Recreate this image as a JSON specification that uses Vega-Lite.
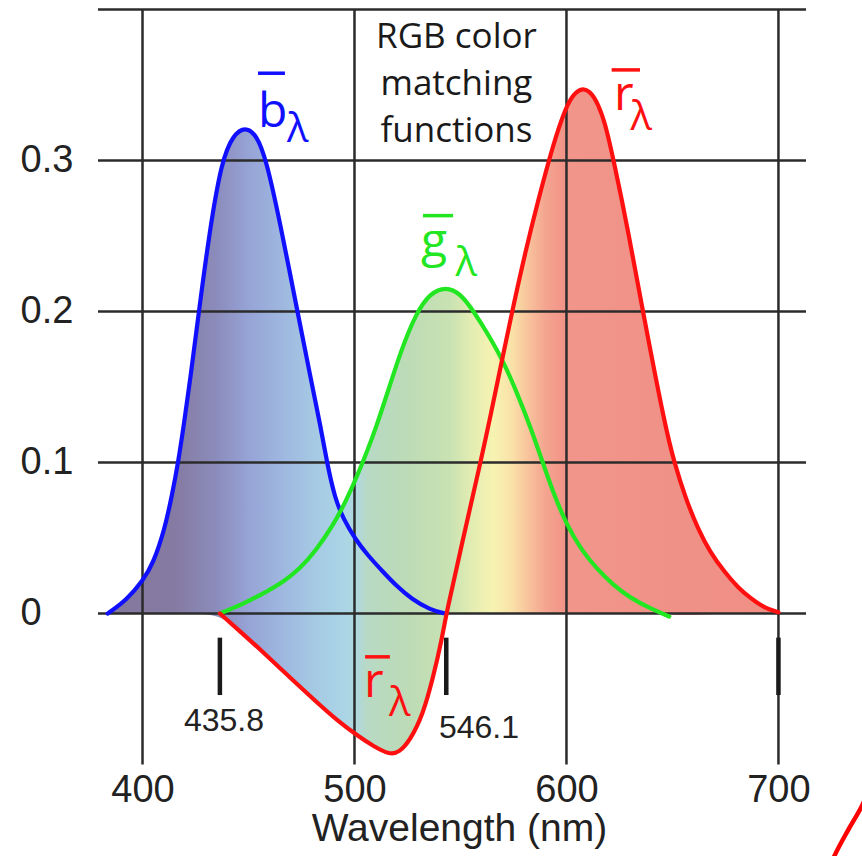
{
  "$schema": "https://vega.github.io/schema/vega-lite/v6.json",
  "width": 708,
  "height": 755,
  "autosize": {"type": "none"},
  "padding": {"left": 98, "top": 9.5, "right": 56, "bottom": 91.5},
  "background": "white",
  "config": {"view": {"stroke": null}, "font": "Liberation Sans"},
  "datasets": {
    "cmf": [
      {"fn": "b", "wl": 383.6, "v": 0}, {"fn": "b", "wl": 392.5, "v": 0.0088}, {"fn": "b", "wl": 400.3, "v": 0.0221},
      {"fn": "b", "wl": 405, "v": 0.033}, {"fn": "b", "wl": 410.5, "v": 0.056}, {"fn": "b", "wl": 414, "v": 0.079},
      {"fn": "b", "wl": 416.8, "v": 0.1}, {"fn": "b", "wl": 419.5, "v": 0.125}, {"fn": "b", "wl": 422.5, "v": 0.155},
      {"fn": "b", "wl": 426.6, "v": 0.2}, {"fn": "b", "wl": 431.5, "v": 0.252}, {"fn": "b", "wl": 437.3, "v": 0.3},
      {"fn": "b", "wl": 442.8, "v": 0.317}, {"fn": "b", "wl": 448.4, "v": 0.3225}, {"fn": "b", "wl": 453.8, "v": 0.317},
      {"fn": "b", "wl": 458.5, "v": 0.3}, {"fn": "b", "wl": 465, "v": 0.258}, {"fn": "b", "wl": 473.1, "v": 0.2},
      {"fn": "b", "wl": 479, "v": 0.158}, {"fn": "b", "wl": 484, "v": 0.124}, {"fn": "b", "wl": 487, "v": 0.1},
      {"fn": "b", "wl": 490.8, "v": 0.076}, {"fn": "b", "wl": 495, "v": 0.062}, {"fn": "b", "wl": 500.5, "v": 0.049},
      {"fn": "b", "wl": 506, "v": 0.039}, {"fn": "b", "wl": 513.5, "v": 0.0275}, {"fn": "b", "wl": 520, "v": 0.018},
      {"fn": "b", "wl": 527, "v": 0.0095}, {"fn": "b", "wl": 535.6, "v": 0.0025}, {"fn": "b", "wl": 542.7, "v": 0},
      {"fn": "b", "wl": 560, "v": 0}, {"fn": "b", "wl": 700, "v": 0},
      {"fn": "g", "wl": 383.6, "v": 0}, {"fn": "g", "wl": 420, "v": 0}, {"fn": "g", "wl": 436.5, "v": 0},
      {"fn": "g", "wl": 447, "v": 0.006}, {"fn": "g", "wl": 458.5, "v": 0.0144}, {"fn": "g", "wl": 466, "v": 0.0205},
      {"fn": "g", "wl": 474.2, "v": 0.0295}, {"fn": "g", "wl": 482, "v": 0.042}, {"fn": "g", "wl": 490, "v": 0.0586},
      {"fn": "g", "wl": 496, "v": 0.0745}, {"fn": "g", "wl": 501.5, "v": 0.0918}, {"fn": "g", "wl": 506, "v": 0.1075},
      {"fn": "g", "wl": 510, "v": 0.1225}, {"fn": "g", "wl": 516, "v": 0.148}, {"fn": "g", "wl": 522, "v": 0.1745},
      {"fn": "g", "wl": 529.3, "v": 0.1995}, {"fn": "g", "wl": 535.6, "v": 0.212}, {"fn": "g", "wl": 543.1, "v": 0.2165},
      {"fn": "g", "wl": 550, "v": 0.212}, {"fn": "g", "wl": 556.5, "v": 0.1995}, {"fn": "g", "wl": 563, "v": 0.185},
      {"fn": "g", "wl": 570.6, "v": 0.166}, {"fn": "g", "wl": 577, "v": 0.145}, {"fn": "g", "wl": 583.2, "v": 0.1228},
      {"fn": "g", "wl": 588.8, "v": 0.1}, {"fn": "g", "wl": 594, "v": 0.079}, {"fn": "g", "wl": 600.2, "v": 0.0586},
      {"fn": "g", "wl": 607, "v": 0.042}, {"fn": "g", "wl": 614.7, "v": 0.029}, {"fn": "g", "wl": 622, "v": 0.019},
      {"fn": "g", "wl": 630.4, "v": 0.01}, {"fn": "g", "wl": 640, "v": 0.003}, {"fn": "g", "wl": 648.5, "v": -0.002},
      {"fn": "g", "wl": 670, "v": 0}, {"fn": "g", "wl": 700, "v": 0},
      {"fn": "r", "wl": 383.6, "v": 0}, {"fn": "r", "wl": 420, "v": 0}, {"fn": "r", "wl": 436.5, "v": 0},
      {"fn": "r", "wl": 447, "v": -0.013}, {"fn": "r", "wl": 458.5, "v": -0.0277}, {"fn": "r", "wl": 470, "v": -0.043},
      {"fn": "r", "wl": 482.1, "v": -0.0586}, {"fn": "r", "wl": 492, "v": -0.071}, {"fn": "r", "wl": 501.5, "v": -0.081},
      {"fn": "r", "wl": 509, "v": -0.088}, {"fn": "r", "wl": 516.7, "v": -0.0936}, {"fn": "r", "wl": 521, "v": -0.092},
      {"fn": "r", "wl": 526.1, "v": -0.0843}, {"fn": "r", "wl": 532.4, "v": -0.0666}, {"fn": "r", "wl": 537.1, "v": -0.0423},
      {"fn": "r", "wl": 541.1, "v": -0.0179}, {"fn": "r", "wl": 543.3, "v": 0}, {"fn": "r", "wl": 551.3, "v": 0.05},
      {"fn": "r", "wl": 559.4, "v": 0.1}, {"fn": "r", "wl": 563, "v": 0.1228}, {"fn": "r", "wl": 574.3, "v": 0.2},
      {"fn": "r", "wl": 580.9, "v": 0.2412}, {"fn": "r", "wl": 586.8, "v": 0.2744}, {"fn": "r", "wl": 591.7, "v": 0.3},
      {"fn": "r", "wl": 596, "v": 0.3205}, {"fn": "r", "wl": 600.7, "v": 0.3384}, {"fn": "r", "wl": 604.5, "v": 0.3457},
      {"fn": "r", "wl": 608.3, "v": 0.348}, {"fn": "r", "wl": 612, "v": 0.3445}, {"fn": "r", "wl": 615, "v": 0.337},
      {"fn": "r", "wl": 618.2, "v": 0.325}, {"fn": "r", "wl": 622.3, "v": 0.3}, {"fn": "r", "wl": 629.3, "v": 0.252},
      {"fn": "r", "wl": 636.1, "v": 0.1995}, {"fn": "r", "wl": 646.7, "v": 0.1228}, {"fn": "r", "wl": 650.9, "v": 0.1},
      {"fn": "r", "wl": 656, "v": 0.077}, {"fn": "r", "wl": 661.9, "v": 0.0564}, {"fn": "r", "wl": 668, "v": 0.04},
      {"fn": "r", "wl": 674.5, "v": 0.0277}, {"fn": "r", "wl": 681, "v": 0.017}, {"fn": "r", "wl": 687, "v": 0.01},
      {"fn": "r", "wl": 693, "v": 0.004}, {"fn": "r", "wl": 700, "v": 0.0008}
    ],
    "gridx": [{"wl": 400}, {"wl": 500}, {"wl": 600}, {"wl": 700}],
    "gridy": [{"v": 0}, {"v": 0.1}, {"v": 0.2}, {"v": 0.3}, {"v": 0.4}],
    "hglines": [{"wl": 436.5}, {"wl": 543.3}, {"wl": 700}],
    "hglabels": [{"wl": 438.4, "v": -0.0709, "t": "435.8"}, {"wl": 558.7, "v": -0.0755, "t": "546.1"}],
    "letters": [
      {"wl": 454.5, "v": 0.3224, "t": "b", "fn": "b"},
      {"wl": 622.4, "v": 0.3335, "t": "r", "fn": "r"},
      {"wl": 531.4, "v": 0.2359, "t": "g", "fn": "g"},
      {"wl": 504.5, "v": -0.055, "t": "r", "fn": "r"}
    ],
    "bars": [
      {"wl": 454.5, "wl2": 467.2, "v": 0.3578, "fn": "b"},
      {"wl": 621.3, "wl2": 634.7, "v": 0.36, "fn": "r"},
      {"wl": 532.3, "wl2": 546.5, "v": 0.2635, "fn": "g"},
      {"wl": 505.0, "wl2": 516.7, "v": -0.0287, "fn": "r"}
    ],
    "subs": [
      {"wl": 468.2, "v": 0.3125, "t": "λ", "fn": "b"},
      {"wl": 630.2, "v": 0.3203, "t": "λ", "fn": "r"},
      {"wl": 547.7, "v": 0.2232, "t": "λ", "fn": "g"},
      {"wl": 516.3, "v": -0.068, "t": "λ", "fn": "r"}
    ],
    "note": [{"wl": 548.1, "v": 0.3743, "t": "RGB color\nmatching\nfunctions"}],
    "arc": [
      {"wl": 725.3, "v": -0.164}, {"wl": 726.7, "v": -0.1597}, {"wl": 733.0, "v": -0.1431},
      {"wl": 739.3, "v": -0.1276}, {"wl": 741.3, "v": -0.1218}
    ]
  },
  "layer": [
    {
      "data": {"name": "cmf"},
      "mark": {
        "type": "area",
        "interpolate": "basis",
        "fill": {
          "gradient": "linear", "x1": 0, "x2": 1, "y1": 0, "y2": 0,
          "stops": [
            {"offset": 0, "color": "#84789c"},
            {"offset": 0.099, "color": "#857aa2"},
            {"offset": 0.162, "color": "#8b8cbb"},
            {"offset": 0.21, "color": "#96a3d6"},
            {"offset": 0.257, "color": "#9eb6df"},
            {"offset": 0.305, "color": "#a5c8e3"},
            {"offset": 0.352, "color": "#abd5e6"},
            {"offset": 0.371, "color": "#b0d8df"},
            {"offset": 0.387, "color": "#b8d9c4"},
            {"offset": 0.447, "color": "#bcdbb6"},
            {"offset": 0.51, "color": "#c9e2b2"},
            {"offset": 0.542, "color": "#e2ecb2"},
            {"offset": 0.574, "color": "#f7f3b1"},
            {"offset": 0.602, "color": "#f9e2a8"},
            {"offset": 0.627, "color": "#f8c39c"},
            {"offset": 0.652, "color": "#f4a590"},
            {"offset": 0.678, "color": "#f29589"},
            {"offset": 0.716, "color": "#f1948a"},
            {"offset": 1, "color": "#ef8e84"}
          ]
        }
      },
      "encoding": {
        "x": {
          "field": "wl", "type": "quantitative",
          "scale": {"domain": [379, 713], "nice": false, "zero": false},
          "axis": {
            "values": [400, 500, 600, 700], "grid": false, "ticks": false, "domain": false,
            "labelFontSize": 38, "labelPadding": 7, "labelColor": "#222", "labelFont": "Liberation Sans",
            "labelFlush": false, "labelOverlap": false,
            "title": "Wavelength (nm)", "titleFontSize": 39, "titleFontWeight": "normal",
            "titleFont": "Liberation Sans", "titleColor": "#222", "titlePadding": 0, "titleX": 361
          }
        },
        "y": {
          "field": "v", "type": "quantitative", "stack": null,
          "scale": {"domain": [-0.1, 0.4], "nice": false, "zero": false},
          "axis": {
            "values": [0, 0.1, 0.2, 0.3], "grid": false, "ticks": false, "domain": false,
            "labelAlign": "left", "labelBaseline": "middle", "labelPadding": 78,
            "labelFontSize": 38, "labelColor": "#222", "labelFont": "Liberation Sans",
            "labelFlush": false, "labelOverlap": false,
            "labelExpr": "format(datum.value, '~g')", "title": null
          }
        },
        "y2": {"datum": 0},
        "detail": {"field": "fn"}
      }
    },
    {
      "data": {"name": "gridx"},
      "mark": {"type": "rule", "color": "#2b2b2b", "strokeWidth": 2.5},
      "encoding": {
        "x": {"field": "wl", "type": "quantitative", "scale": {"domain": [379, 713], "nice": false, "zero": false}}
      }
    },
    {
      "data": {"name": "gridy"},
      "mark": {"type": "rule", "color": "#2b2b2b", "strokeWidth": 2.5},
      "encoding": {
        "y": {"field": "v", "type": "quantitative", "scale": {"domain": [-0.1, 0.4], "nice": false, "zero": false}}
      }
    },
    {
      "data": {"name": "cmf"},
      "transform": [
        {"filter": "(datum.fn == 'b' && datum.wl <= 543) || (datum.fn == 'g' && datum.wl >= 436 && datum.wl <= 649) || (datum.fn == 'r' && datum.wl >= 436)"}
      ],
      "mark": {"type": "line", "interpolate": "basis", "strokeWidth": 4.2, "strokeCap": "round"},
      "encoding": {
        "x": {"field": "wl", "type": "quantitative", "scale": {"domain": [379, 713], "nice": false, "zero": false}},
        "y": {"field": "v", "type": "quantitative", "scale": {"domain": [-0.1, 0.4], "nice": false, "zero": false}},
        "color": {"field": "fn", "type": "nominal", "scale": {"domain": ["b", "g", "r"], "range": ["#1010ff", "#22e622", "#ff1010"]}, "legend": null}
      }
    },
    {
      "data": {"name": "hglines"},
      "mark": {"type": "rule", "color": "#1a1a1a", "strokeWidth": 4.5},
      "encoding": {
        "x": {"field": "wl", "type": "quantitative", "scale": {"domain": [379, 713], "nice": false, "zero": false}},
        "y": {"datum": -0.016},
        "y2": {"datum": -0.054}
      }
    },
    {
      "data": {"name": "hglabels"},
      "mark": {"type": "text", "font": "Liberation Sans", "fontSize": 32, "align": "center", "baseline": "middle", "color": "#222"},
      "encoding": {
        "x": {"field": "wl", "type": "quantitative", "scale": {"domain": [379, 713], "nice": false, "zero": false}},
        "y": {"field": "v", "type": "quantitative", "scale": {"domain": [-0.1, 0.4], "nice": false, "zero": false}},
        "text": {"field": "t"}
      }
    },
    {
      "data": {"name": "bars"},
      "mark": {"type": "rule", "strokeWidth": 3.5},
      "encoding": {
        "x": {"field": "wl", "type": "quantitative", "scale": {"domain": [379, 713], "nice": false, "zero": false}},
        "x2": {"field": "wl2"},
        "y": {"field": "v", "type": "quantitative", "scale": {"domain": [-0.1, 0.4], "nice": false, "zero": false}},
        "color": {"field": "fn", "type": "nominal", "scale": {"domain": ["b", "g", "r"], "range": ["#1010ff", "#22e622", "#ff1010"]}, "legend": null}
      }
    },
    {
      "data": {"name": "letters"},
      "mark": {"type": "text", "font": "Open Sans", "fontSize": 48, "align": "left", "baseline": "alphabetic"},
      "encoding": {
        "x": {"field": "wl", "type": "quantitative", "scale": {"domain": [379, 713], "nice": false, "zero": false}},
        "y": {"field": "v", "type": "quantitative", "scale": {"domain": [-0.1, 0.4], "nice": false, "zero": false}},
        "text": {"field": "t"},
        "color": {"field": "fn", "type": "nominal", "scale": {"domain": ["b", "g", "r"], "range": ["#1010ff", "#22e622", "#ff1010"]}, "legend": null}
      }
    },
    {
      "data": {"name": "subs"},
      "mark": {"type": "text", "font": "Open Sans", "fontSize": 40, "align": "left", "baseline": "alphabetic"},
      "encoding": {
        "x": {"field": "wl", "type": "quantitative", "scale": {"domain": [379, 713], "nice": false, "zero": false}},
        "y": {"field": "v", "type": "quantitative", "scale": {"domain": [-0.1, 0.4], "nice": false, "zero": false}},
        "text": {"field": "t"},
        "color": {"field": "fn", "type": "nominal", "scale": {"domain": ["b", "g", "r"], "range": ["#1010ff", "#22e622", "#ff1010"]}, "legend": null}
      }
    },
    {
      "data": {"name": "note"},
      "mark": {"type": "text", "font": "Open Sans", "fontSize": 35, "align": "center", "baseline": "alphabetic", "lineBreak": "\n", "lineHeight": 46.7, "color": "#1a1a1a"},
      "encoding": {
        "x": {"field": "wl", "type": "quantitative", "scale": {"domain": [379, 713], "nice": false, "zero": false}},
        "y": {"field": "v", "type": "quantitative", "scale": {"domain": [-0.1, 0.4], "nice": false, "zero": false}},
        "text": {"field": "t"}
      }
    },
    {
      "data": {"name": "arc"},
      "mark": {"type": "line", "interpolate": "monotone", "color": "#ff0000", "strokeWidth": 4.5},
      "encoding": {
        "x": {"field": "wl", "type": "quantitative", "scale": {"domain": [379, 713], "nice": false, "zero": false}},
        "y": {"field": "v", "type": "quantitative", "scale": {"domain": [-0.1, 0.4], "nice": false, "zero": false}}
      }
    }
  ]
}
